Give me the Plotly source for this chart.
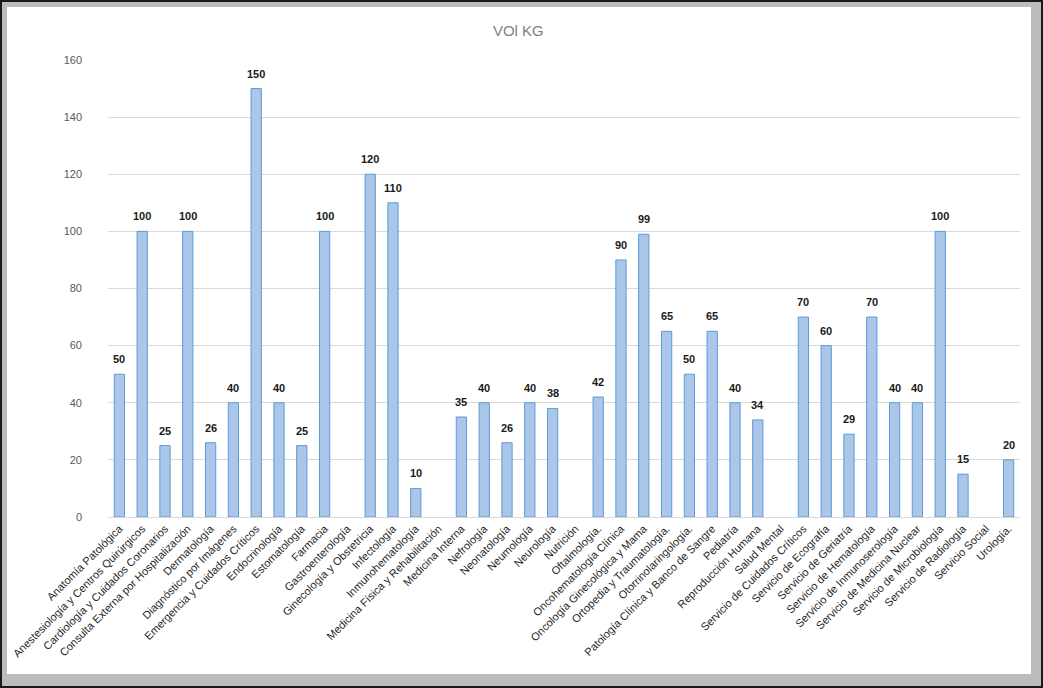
import plotly.graph_objects as go

# Categories (services) and their values in kg
categories = [
    "Anatomía Patológica",
    "Anestesiología y Centros Quirúrgicos",
    "Cardiología y Cuidados Coronarios",
    "Consulta Externa por Hospitalización",
    "Dermatología",
    "Diagnóstico por Imágenes",
    "Emergencia y Cuidados Críticos",
    "Endocrinología",
    "Estomatología",
    "Farmacia",
    "Gastroenterología",
    "Ginecología y Obstetricia",
    "Infectología",
    "Inmunohematología",
    "Medicina Física y Rehabilitación",
    "Medicina Interna",
    "Nefrología",
    "Neonatología",
    "Neumología",
    "Neurología",
    "Nutrición",
    "Oftalmología.",
    "Oncohematología Clínica",
    "Oncología Ginecológica y Mama",
    "Ortopedia y Traumatología.",
    "Otorrinolaringología.",
    "Patología Clínica y Banco de Sangre",
    "Pediatría",
    "Reproducción Humana",
    "Salud Mental",
    "Servicio de Cuidados Críticos",
    "Servicio de Ecografía",
    "Servicio de Geriatría",
    "Servicio de Hematología",
    "Servicio de Inmunoserología",
    "Servicio de Medicina Nuclear",
    "Servicio de Microbiología",
    "Servicio de Radiología",
    "Servicio Social",
    "Urología.",
]

values = [
    50, 100, 25, 100, 26, 40, 150, 40, 25, 100,
    None, 120, 110, 10, None, 35, 40, 26, 40, 38,
    None, 42, 90, 99, 65, 50, 65, 40, 34, None,
    70, 60, 29, 70, 40, 40, 100, 15, None, 20,
]

y_ticks = [0, 20, 40, 60, 80, 100, 120, 140, 160]

W, H = 1043, 688
ML, MR, MT, MB = 108, 23, 60, 171
PW, PH = W - ML - MR, H - MT - MB


def px_x(px):
    return (px - ML) / PW


def px_y(py):
    return (H - MB - py) / PH


fig = go.Figure(
    go.Bar(
        x=categories,
        y=values,
        marker=dict(color="#aac7ea", line=dict(color="#5b9bd5", width=1)),
        hoverinfo="x+y",
    )
)

# value labels above each bar
for cat, val in zip(categories, values):
    if val is None:
        continue
    fig.add_annotation(
        x=cat, y=val, text=str(val), showarrow=False,
        yanchor="bottom", yshift=7,
        font=dict(family="Liberation Sans", size=11, color="#1a1a1a", weight="bold"),
    )

fig.update_layout(
    width=W,
    height=H,
    margin=dict(l=ML, r=MR, t=MT, b=MB),
    paper_bgcolor="#bcbcbc",
    plot_bgcolor="white",
    bargap=0.55,
    showlegend=False,
    title=dict(
        text="VOl KG",
        x=0.497,
        xref="container",
        xanchor="center",
        y=1 - 31 / H,
        yanchor="middle",
        font=dict(family="Liberation Sans", size=15, color="#7f7f7f"),
    ),
    font=dict(family="Liberation Sans"),
    xaxis=dict(
        tickangle=-45,
        tickfont=dict(size=11, color="#262626"),
        showgrid=False,
        showline=True,
        linecolor="#d9d9d9",
        ticks="",
        range=[-0.5, len(categories) - 0.5],
    ),
    yaxis=dict(
        range=[0, 160],
        tickvals=y_ticks,
        tickfont=dict(size=11, color="#595959"),
        gridcolor="#d9d9d9",
        gridwidth=1,
        zeroline=False,
        showline=False,
        ticks="",
        ticklabelstandoff=25,
    ),
    shapes=[
        # white chart area inside the dark frame
        dict(
            type="rect", xref="paper", yref="paper", layer="below",
            x0=px_x(7), x1=px_x(1031), y0=px_y(674), y1=px_y(7),
            fillcolor="white", line=dict(width=0),
        ),
        # thin outer border
        dict(
            type="rect", xref="paper", yref="paper", layer="above",
            x0=px_x(1), x1=px_x(W - 1), y0=px_y(H - 1), y1=px_y(1),
            fillcolor="rgba(0,0,0,0)", line=dict(color="#1a1a1a", width=2),
        ),
    ],
)

fig.write_html("out.html")
